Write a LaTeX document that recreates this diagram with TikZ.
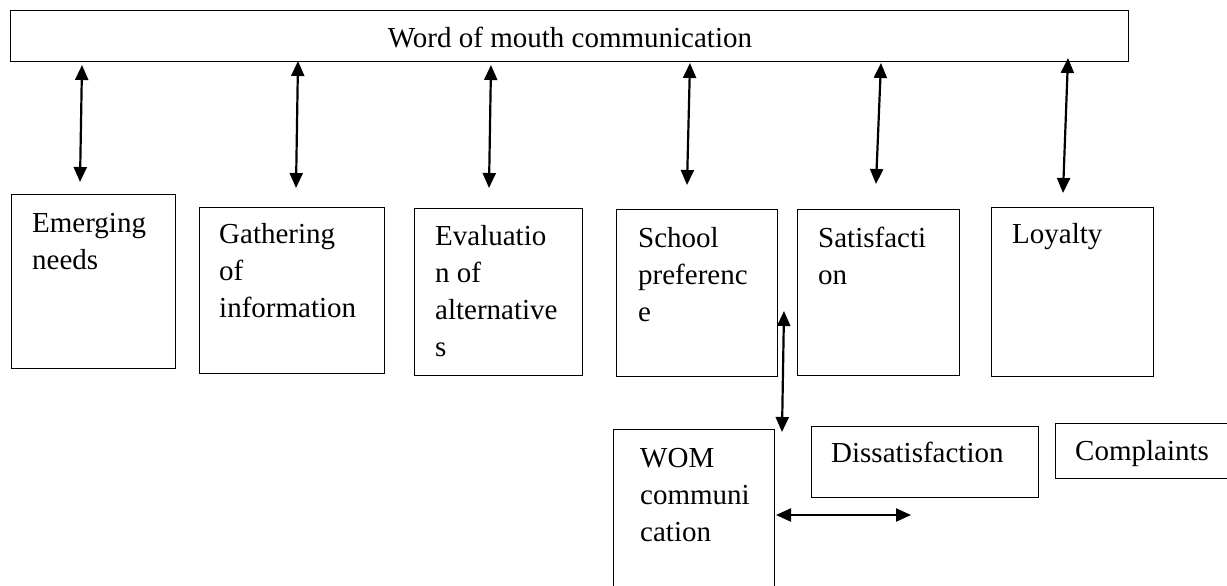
\documentclass[tikz,border=0pt]{standalone}
\usepackage{fontspec}
\setmainfont{Liberation Serif}
\usetikzlibrary{arrows.meta}
\begin{document}
\begin{tikzpicture}[x=1pt,y=-1pt,
  box/.style={draw=black, line width=1.4pt, inner sep=0pt, anchor=north west},
  lbl/.style={anchor=north west, inner sep=0pt, align=left, font=\fontsize{29}{37}\selectfont},
  biarrow/.style={line width=2.2pt, {Triangle[length=15pt,width=13pt]}-{Triangle[length=15pt,width=13pt]}}]
\useasboundingbox (0,0) rectangle (1227,586);
% top box
\node[box, minimum width=1118pt, minimum height=51pt] (wom) at (10,10) {};
\node[anchor=base, inner sep=0pt, font=\fontsize{29}{37}\selectfont] (womt) at (570,48) {Word of mouth communication};
% stage boxes
\node[box, minimum width=164pt, minimum height=174pt] (em) at (11,194) {};
\node[box, minimum width=185pt, minimum height=166pt] (ga) at (199,207) {};
\node[box, minimum width=168pt, minimum height=167pt] (ev) at (414,208) {};
\node[box, minimum width=161pt, minimum height=167pt] (sc) at (616,209) {};
\node[box, minimum width=162pt, minimum height=166pt] (sa) at (797,209) {};
\node[box, minimum width=162pt, minimum height=169pt] (lo) at (991,207) {};
\node[box, minimum width=161pt, minimum height=180pt] (wc) at (613,429) {};
\node[box, minimum width=227pt, minimum height=71pt] (di) at (811,426) {};
\node[box, minimum width=180pt, minimum height=55pt] (co) at (1055,423) {};
% texts
\node[lbl] (emt) at (32,206.1) {\strut Emerging\\needs};
\node[lbl] (gat) at (219,217.1) {\strut Gathering\\of\\information};
\node[lbl] (evt) at (435,219.1) {\strut Evaluatio\\n of\\alternative\\s};
\node[lbl] (sct) at (638,221.1) {\strut School\\preferenc\\e};
\node[lbl] (sat) at (818,221.1) {\strut Satisfacti\\on};
\node[lbl] (lot) at (1012,217.1) {\strut Loyalty};
\node[lbl] (wct) at (640,441.1) {\strut WOM\\communi\\cation};
\node[lbl] (dit) at (831,436.1) {\strut Dissatisfaction};
\node[lbl] (cot) at (1075,434.1) {\strut Complaints};
% arrow end points
\coordinate (a1t) at (82,65);   \coordinate (a1b) at (80,182);
\coordinate (a2t) at (298,61);  \coordinate (a2b) at (296,188);
\coordinate (a3t) at (491,65);  \coordinate (a3b) at (489,188);
\coordinate (a4t) at (690,63);  \coordinate (a4b) at (687,185);
\coordinate (a5t) at (881,63);  \coordinate (a5b) at (876,184);
\coordinate (a6t) at (1068,58); \coordinate (a6b) at (1063,193);
\coordinate (vt) at (784,311);  \coordinate (vb) at (782,432);
\coordinate (hl) at (776,515);  \coordinate (hr) at (911,515);
\draw[biarrow] (a1t) -- (a1b);
\draw[biarrow] (a2t) -- (a2b);
\draw[biarrow] (a3t) -- (a3b);
\draw[biarrow] (a4t) -- (a4b);
\draw[biarrow] (a5t) -- (a5b);
\draw[biarrow] (a6t) -- (a6b);
\draw[biarrow] (vt) -- (vb);
\draw[biarrow] (hl) -- (hr);
\end{tikzpicture}
\end{document}
